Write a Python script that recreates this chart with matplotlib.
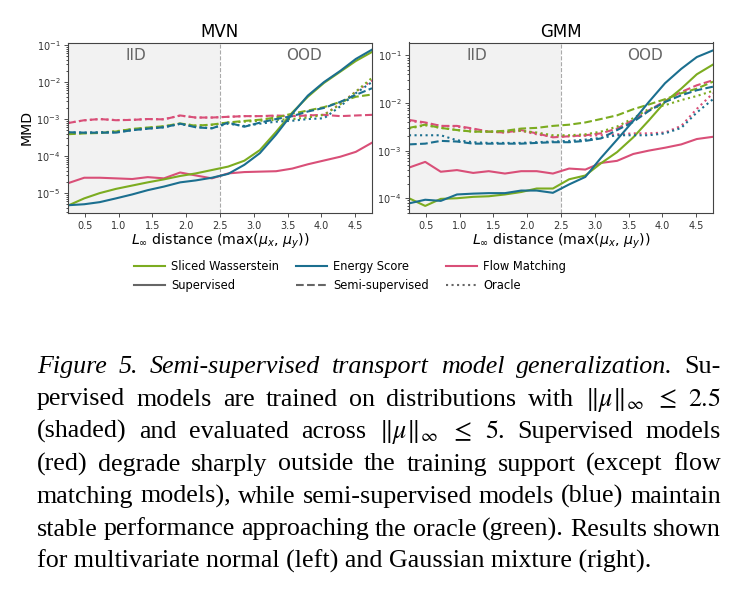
import matplotlib
matplotlib.use('Agg')
import matplotlib.pyplot as plt
from matplotlib.lines import Line2D

# distancia L_inf (centros de los puntos evaluados)
x = [0.25, 0.49, 0.72, 0.96, 1.20, 1.43, 1.67, 1.91, 2.14, 2.38,
     2.62, 2.86, 3.09, 3.33, 3.57, 3.80, 4.04, 4.28, 4.51, 4.75]

# MVN
mvn_sw_sup = [4.6e-6, 7.2e-6, 1.0e-5, 1.3e-5, 1.6e-5, 1.95e-5, 2.35e-5, 2.9e-5, 3.4e-5, 4.2e-5,
              5.2e-5, 7.5e-5, 1.45e-4, 4.5e-4, 1.5e-3, 4.0e-3, 9.5e-3, 1.9e-2, 3.7e-2, 6.5e-2]
mvn_es_sup = [4.7e-6, 5.0e-6, 5.7e-6, 7.2e-6, 9.2e-6, 1.2e-5, 1.5e-5, 1.95e-5, 2.2e-5, 2.6e-5,
              3.3e-5, 5.8e-5, 1.2e-4, 3.8e-4, 1.4e-3, 4.3e-3, 1.0e-2, 2.0e-2, 4.2e-2, 7.5e-2]
mvn_fm_sup = [1.85e-5, 2.6e-5, 2.6e-5, 2.5e-5, 2.4e-5, 2.7e-5, 2.5e-5, 3.6e-5, 3.0e-5, 2.5e-5,
              3.4e-5, 3.7e-5, 3.8e-5, 3.9e-5, 4.6e-5, 6.0e-5, 7.6e-5, 9.6e-5, 1.3e-4, 2.3e-4]
mvn_sw_semi = [3.9e-4, 4.1e-4, 4.2e-4, 4.6e-4, 5.4e-4, 5.9e-4, 6.4e-4, 7.6e-4, 6.6e-4, 7.1e-4,
               8.1e-4, 8.9e-4, 9.6e-4, 1.1e-3, 1.4e-3, 1.7e-3, 2.1e-3, 2.9e-3, 4.0e-3, 4.6e-3]
mvn_es_semi = [4.4e-4, 4.3e-4, 4.3e-4, 4.3e-4, 5.0e-4, 5.5e-4, 6.0e-4, 7.5e-4, 6.0e-4, 5.6e-4,
               8.0e-4, 6.2e-4, 8.0e-4, 1.0e-3, 1.2e-3, 1.6e-3, 2.0e-3, 2.9e-3, 4.5e-3, 6.8e-3]
mvn_fm_semi = [7.8e-4, 9.3e-4, 1.0e-3, 9.3e-4, 9.5e-4, 1.0e-3, 9.8e-4, 1.25e-3, 1.1e-3, 1.1e-3,
               1.15e-3, 1.2e-3, 1.2e-3, 1.25e-3, 1.2e-3, 1.25e-3, 1.3e-3, 1.2e-3, 1.25e-3, 1.3e-3]
mvn_sw_orc = [4.0e-4, 4.2e-4, 4.3e-4, 4.7e-4, 5.3e-4, 5.8e-4, 6.3e-4, 7.5e-4, 6.7e-4, 7.0e-4,
              8.0e-4, 8.5e-4, 9.0e-4, 9.5e-4, 1.0e-3, 1.1e-3, 1.3e-3, 2.5e-3, 5.5e-3, 1.3e-2]
mvn_es_orc = [4.4e-4, 4.3e-4, 4.4e-4, 4.4e-4, 5.0e-4, 5.5e-4, 6.0e-4, 7.4e-4, 6.1e-4, 5.7e-4,
              7.5e-4, 6.5e-4, 7.5e-4, 8.5e-4, 9.0e-4, 1.0e-3, 1.05e-3, 2.2e-3, 5.0e-3, 1.0e-2]
mvn_fm_orc = [7.9e-4, 9.2e-4, 1.0e-3, 9.4e-4, 9.5e-4, 1.0e-3, 9.9e-4, 1.24e-3, 1.1e-3, 1.1e-3,
              1.15e-3, 1.2e-3, 1.2e-3, 1.2e-3, 1.2e-3, 1.25e-3, 1.3e-3, 2.6e-3, 5.5e-3, 1.1e-2]

# GMM
gmm_sw_sup = [1.0e-4, 6.9e-5, 9.7e-5, 1.0e-4, 1.07e-4, 1.1e-4, 1.2e-4, 1.35e-4, 1.6e-4, 1.6e-4,
              2.5e-4, 3.0e-4, 5.4e-4, 9.3e-4, 1.9e-3, 4.3e-3, 1.05e-2, 2.0e-2, 4.0e-2, 6.4e-2]
gmm_es_sup = [7.8e-5, 9.3e-5, 8.8e-5, 1.2e-4, 1.25e-4, 1.28e-4, 1.28e-4, 1.45e-4, 1.45e-4, 1.3e-4,
              1.95e-4, 2.8e-4, 7.0e-4, 1.7e-3, 4.2e-3, 1.05e-2, 2.6e-2, 5.2e-2, 9.2e-2, 1.27e-1]
gmm_fm_sup = [4.4e-4, 5.8e-4, 3.6e-4, 3.9e-4, 3.4e-4, 3.7e-4, 3.3e-4, 3.7e-4, 3.7e-4, 3.3e-4,
              4.2e-4, 4.0e-4, 5.5e-4, 6.1e-4, 8.5e-4, 1.0e-3, 1.15e-3, 1.35e-3, 1.75e-3, 1.95e-3]
gmm_sw_semi = [3.0e-3, 3.5e-3, 3.0e-3, 2.7e-3, 2.5e-3, 2.5e-3, 2.6e-3, 2.9e-3, 3.0e-3, 3.3e-3,
               3.5e-3, 3.9e-3, 4.6e-3, 5.5e-3, 7.4e-3, 9.3e-3, 1.2e-2, 1.6e-2, 2.0e-2, 2.8e-2]
gmm_es_semi = [1.35e-3, 1.4e-3, 1.6e-3, 1.55e-3, 1.4e-3, 1.4e-3, 1.4e-3, 1.4e-3, 1.45e-3, 1.5e-3,
               1.5e-3, 1.6e-3, 1.8e-3, 2.7e-3, 4.0e-3, 6.8e-3, 1.05e-2, 1.45e-2, 1.85e-2, 2.2e-2]
gmm_fm_semi = [4.4e-3, 3.9e-3, 3.3e-3, 3.3e-3, 2.9e-3, 2.5e-3, 2.4e-3, 2.7e-3, 2.3e-3, 1.9e-3,
               2.0e-3, 2.1e-3, 2.3e-3, 2.9e-3, 4.4e-3, 7.0e-3, 1.1e-2, 1.7e-2, 2.35e-2, 3.0e-2]
gmm_sw_orc = [2.9e-3, 3.4e-3, 3.0e-3, 2.7e-3, 2.5e-3, 2.5e-3, 2.5e-3, 2.6e-3, 2.4e-3, 2.1e-3,
              2.1e-3, 2.2e-3, 2.5e-3, 3.2e-3, 4.8e-3, 7.5e-3, 9.0e-3, 1.15e-2, 1.4e-2, 1.8e-2]
gmm_es_orc = [2.1e-3, 2.1e-3, 2.1e-3, 1.65e-3, 1.5e-3, 1.45e-3, 1.45e-3, 1.45e-3, 1.5e-3, 1.55e-3,
              1.6e-3, 1.7e-3, 1.85e-3, 2.1e-3, 2.1e-3, 2.1e-3, 2.3e-3, 3.0e-3, 6.3e-3, 1.2e-2]
gmm_fm_orc = [4.2e-3, 3.8e-3, 3.3e-3, 3.2e-3, 2.8e-3, 2.5e-3, 2.4e-3, 2.6e-3, 2.2e-3, 1.95e-3,
              2.0e-3, 2.05e-3, 2.1e-3, 2.2e-3, 2.3e-3, 2.3e-3, 2.4e-3, 3.3e-3, 7.5e-3, 1.6e-2]

GREEN = '#7cac20'
BLUE = '#1b6f8f'
RED = '#d94f78'

CAPTION = [
    [("Figure", 'italic'), ("5.", 'italic'), ("Semi-supervised", 'italic'), ("transport", 'italic'),
     ("model", 'italic'), ("generalization.", 'italic'), ("Su-", 'normal')],
    "pervised models are trained on distributions with $\\|\\mu\\|_\\infty$ $\\leq$ $2.5$",
    "(shaded) and evaluated across $\\|\\mu\\|_\\infty$ $\\leq$ $5$. Supervised models",
    "(red) degrade sharply outside the training support (except flow",
    "matching models), while semi-supervised models (blue) maintain",
    "stable performance approaching the oracle (green). Results shown",
    "for multivariate normal (left) and Gaussian mixture (right).",
]

W, H = 739, 591
fig = plt.figure(figsize=(W / 100, H / 100), dpi=100)
ax1 = fig.add_axes([68 / W, 1 - 213 / H, 304 / W, 170.5 / H])
ax2 = fig.add_axes([409 / W, 1 - 213 / H, 304 / W, 170.5 / H])


def panel(ax, title, series, ylim):
    ax.axvspan(0.25, 2.5, color='#f2f2f2', zorder=0, lw=0)
    ax.axvline(2.5, color='#aaaaaa', ls='--', lw=0.8, zorder=1)
    for sup, semi, orc, c in series:
        ax.plot(x, sup, color=c, lw=1.5, ls='-')
        ax.plot(x, semi, color=c, lw=1.5, ls='--')
        ax.plot(x, orc, color=c, lw=1.5, ls=':')
    ax.set_yscale('log')
    ax.set_xlim(0.25, 4.75)
    ax.set_ylim(*ylim)
    ax.set_xticks([0.5, 1.0, 1.5, 2.0, 2.5, 3.0, 3.5, 4.0, 4.5])
    ax.tick_params(labelsize=7, colors='#333333', length=3, width=0.6, pad=2.5)
    ax.tick_params(which='minor', length=1.5, width=0.5)
    for s in ax.spines.values():
        s.set_color('#444444')
        s.set_linewidth(0.8)
    ax.set_title(title, fontsize=12, pad=4)
    ax.set_xlabel(r'$L_\infty$ distance (max($\mu_x$, $\mu_y$))', fontsize=10.2, labelpad=1)
    ax.text(1.25, 0.925, 'IID', transform=ax.get_xaxis_transform(), ha='center', va='center',
            fontsize=11, color='#666666')
    ax.text(3.75, 0.925, 'OOD', transform=ax.get_xaxis_transform(), ha='center', va='center',
            fontsize=11, color='#666666')


panel(ax1, 'MVN', [(mvn_fm_sup, mvn_fm_semi, mvn_fm_orc, RED),
                   (mvn_sw_sup, mvn_sw_semi, mvn_sw_orc, GREEN),
                   (mvn_es_sup, mvn_es_semi, mvn_es_orc, BLUE)], (2.9e-6, 0.117))
panel(ax2, 'GMM', [(gmm_fm_sup, gmm_fm_semi, gmm_fm_orc, RED),
                   (gmm_sw_sup, gmm_sw_semi, gmm_sw_orc, GREEN),
                   (gmm_es_sup, gmm_es_semi, gmm_es_orc, BLUE)], (4.9e-5, 0.186))
ax1.set_ylabel('MMD', fontsize=10.2, labelpad=2)

handles = [Line2D([], [], color=GREEN, lw=1.5), Line2D([], [], color='#666666', lw=1.5),
           Line2D([], [], color=BLUE, lw=1.5), Line2D([], [], color='#666666', lw=1.5, ls='--'),
           Line2D([], [], color=RED, lw=1.5), Line2D([], [], color='#666666', lw=1.5, ls=':')]
labels = ['Sliced Wasserstein', 'Supervised', 'Energy Score', 'Semi-supervised',
          'Flow Matching', 'Oracle']
fig.legend(handles, labels, ncol=3, loc='center', bbox_to_anchor=(350 / W, 1 - 276 / H),
           frameon=False, fontsize=8.3, handlelength=2.7, handletextpad=0.5,
           columnspacing=1.5, labelspacing=0.55)

# Leyenda de la figura (texto justificado)
r = fig.canvas.get_renderer()
X0, X1 = 37, 721
probe = fig.text(0, 0, CAPTION[-1], fontsize=10, family='Liberation Serif')
cap_size = 10 * 615 / probe.get_window_extent(r).width
probe.remove()

y0, dy = 373, 32.5
for i, line in enumerate(CAPTION):
    yb = 1 - (y0 + i * dy) / H
    if i == len(CAPTION) - 1:
        fig.text(X0 / W, yb, line, fontsize=cap_size, family='Liberation Serif',
                 math_fontfamily='stix', va='baseline')
        continue
    words = line if isinstance(line, list) else [(w, 'normal') for w in line.split(' ')]
    arts = [fig.text(0, yb, w, fontsize=cap_size, family='Liberation Serif', style=st,
                     math_fontfamily='stix', va='baseline') for w, st in words]
    widths = [a.get_window_extent(r).width for a in arts]
    gap = (X1 - X0 - sum(widths)) / (len(arts) - 1)
    pos = X0
    for a, w in zip(arts, widths):
        a.set_x(pos / W)
        pos += w + gap

fig.savefig('out.png', dpi=100)
